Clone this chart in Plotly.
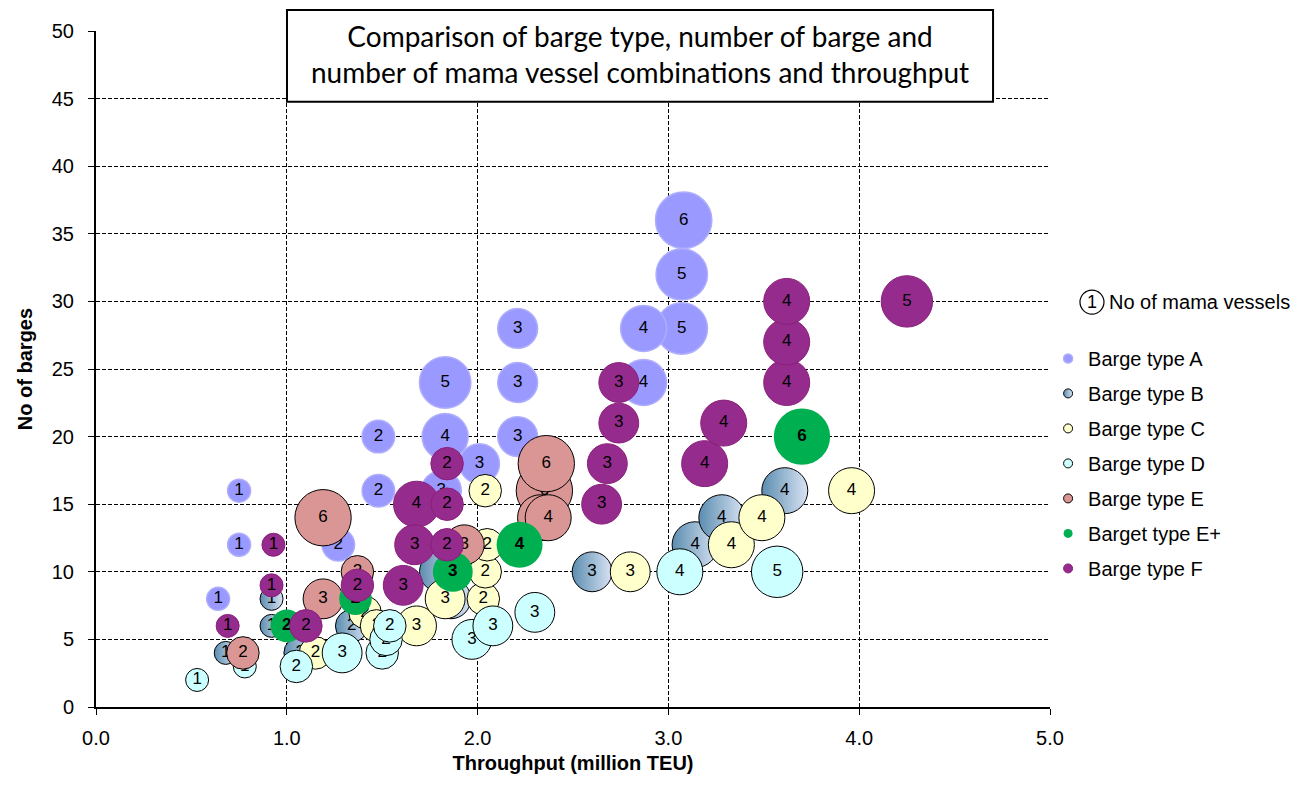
import plotly.graph_objects as go

# throughput (million TEU), no of barges, no of mama vessels (bubble label / size)
a_x = [0.64, 0.75, 0.75, 1.27, 1.48, 1.48, 1.81, 1.83, 1.83, 2.01, 2.21, 2.21, 2.21, 2.87, 2.87, 3.07, 3.07, 3.08]
a_y = [8, 12, 16, 12, 16, 20, 16, 20, 24, 18, 20, 24, 28, 24, 28, 28, 32, 36]
a_n = [1, 1, 1, 2, 2, 2, 3, 4, 5, 3, 3, 3, 3, 4, 4, 5, 5, 6]

b_x = [0.68, 0.92, 0.92, 1.07, 1.34, 1.80, 1.86, 2.60, 3.14, 3.28, 3.61]
b_y = [4, 6, 8, 4, 6, 10, 8, 10, 12, 14, 16]
b_n = [1, 1, 1, 2, 2, 3, 3, 3, 4, 4, 4]

c_x = [1.15, 1.41, 1.47, 1.68, 1.83, 2.03, 2.04, 2.05, 2.04, 2.80, 3.33, 3.49, 3.96]
c_y = [4, 7, 6, 6, 8, 8, 10, 12, 16, 10, 12, 14, 16]
c_n = [2, 2, 2, 3, 3, 2, 2, 2, 2, 3, 4, 4, 4]

d_x = [0.53, 0.78, 1.05, 1.29, 1.50, 1.52, 1.54, 1.97, 2.08, 2.30, 3.06, 3.57]
d_y = [2, 3, 3, 4, 4, 5, 6, 5, 6, 7, 10, 10]
d_n = [1, 1, 2, 3, 2, 2, 2, 3, 3, 3, 4, 5]

e_x = [0.77, 1.19, 1.19, 1.37, 1.93, 2.35, 2.36, 2.33, 2.37]
e_y = [4, 8, 14, 10, 12, 16, 18, 14, 14]
e_n = [2, 3, 6, 2, 3, 6, 6, 4, 4]

ep_x = [1.00, 1.36, 1.87, 2.22, 3.70]
ep_y = [6, 8, 10, 12, 20]
ep_n = [2, 2, 3, 4, 6]

f_x = [0.69, 0.92, 0.93, 1.10, 1.37, 1.61, 1.67, 1.68, 1.84, 1.84, 1.84, 2.65, 2.68, 2.74, 2.74, 3.19, 3.29, 3.62, 3.62, 3.62, 4.25]
f_y = [6, 9, 12, 6, 9, 9, 12, 15, 12, 15, 18, 15, 18, 21, 24, 18, 21, 24, 27, 30, 30]
f_n = [1, 1, 1, 2, 2, 3, 3, 4, 2, 2, 2, 3, 3, 3, 3, 4, 4, 4, 4, 4, 5]

SIZEREF = 1 / 264.5
outline = dict(color="black", width=1)

series = [
    ("Barge type A", a_x, a_y, a_n, dict(color="#9999FF", line=dict(color="#aeaefc", width=1.5)), False),
    ("Barge type B", b_x, b_y, b_n, dict(color="#5b8db0", gradient=dict(type="horizontal", color="#d9e3f3"), line=outline), False),
    ("Barge type C", c_x, c_y, c_n, dict(color="#FFFFCC", line=outline), False),
    ("Barge type D", d_x, d_y, d_n, dict(color="#CCFFFF", line=outline), False),
    ("Barge type E", e_x, e_y, e_n, dict(color="#D99694", line=outline), False),
    ("Barget type E+", ep_x, ep_y, ep_n, dict(color="#00B050", line=dict(width=0)), True),
    ("Barge type F", f_x, f_y, f_n, dict(color="#952B8C", line=dict(color="#8a1f7a", width=1)), False),
]

fig = go.Figure()
for name, xs, ys, ns, marker, bold in series:
    # bigger bubbles drawn first inside each series
    order = sorted(range(len(ns)), key=lambda i: -ns[i])
    for i in order:
        lbl = "<b>%d</b>" % ns[i] if bold else str(ns[i])
        fig.add_trace(go.Scatter(
            x=[xs[i]], y=[ys[i]], mode="markers+text", text=[lbl],
            textposition="middle center",
            textfont=dict(size=17, color="black", family="Liberation Sans, Arial"),
            marker=dict(size=[ns[i]], sizemode="area", sizeref=SIZEREF, opacity=1, **marker),
            showlegend=False, hoverinfo="skip"))
    fig.add_trace(go.Scatter(
        x=[None], y=[None], mode="markers", name=name, legendgroup=name,
        marker=dict(size=9, **marker)))

fig.update_layout(
    width=1304, height=791,
    margin=dict(l=88, r=262, t=20, b=92),
    plot_bgcolor="white", paper_bgcolor="white",
    font=dict(family="Liberation Sans, Arial", size=20, color="black"),
    legend=dict(x=0.998, xanchor="left", y=0.5445, yanchor="top",
                font=dict(size=20), tracegroupgap=6, itemwidth=30),
)
fig.update_xaxes(
    range=[0, 5], dtick=1, tickformat=".1f", showgrid=True, gridcolor="black",
    griddash="4px,2px", gridwidth=1, showline=True, linecolor="black", linewidth=2,
    ticks="outside", ticklen=6, tickcolor="black", zeroline=False,
    tickfont=dict(size=20), ticklabelstandoff=6,
    title=dict(text="<b>Throughput (million TEU)</b>", font=dict(size=20), standoff=8))
fig.update_yaxes(
    range=[0, 50], dtick=5, showgrid=True, gridcolor="black",
    griddash="4px,2px", gridwidth=1, showline=True, linecolor="black", linewidth=2,
    ticks="outside", ticklen=6, tickcolor="black", zeroline=False,
    tickfont=dict(size=20), ticklabelstandoff=10,
    title=dict(text="<b>No of barges</b>", font=dict(size=20), standoff=14))

# title box
fig.add_shape(type="rect", xref="paper", yref="paper", x0=0.2002, x1=0.9403, y0=0.8954, y1=1.0309,
              line=dict(color="black", width=2), fillcolor="white", layer="above")
fig.add_annotation(xref="paper", yref="paper", x=0.5703, y=0.966, yanchor="middle", showarrow=False,
                   text="Comparison of barge type, number of barge and<br>number of mama vessel combinations and throughput",
                   font=dict(family="Lato", size=28, color="black"))

# legend header: circled 1
fig.add_shape(type="circle", xref="paper", yref="paper", xsizemode="pixel", ysizemode="pixel",
              xanchor=1.044, yanchor=0.599, x0=-12, x1=12, y0=-12, y1=12,
              line=dict(color="black", width=1.2), fillcolor="white")
fig.add_annotation(xref="paper", yref="paper", x=1.044, y=0.599, xanchor="center", yanchor="middle",
                   showarrow=False, text="1", font=dict(size=18))
fig.add_annotation(xref="paper", yref="paper", x=1.0595, y=0.599, xanchor="left", yanchor="middle",
                   showarrow=False, text="No of mama vessels", font=dict(size=20))

fig.write_html("out.html")
